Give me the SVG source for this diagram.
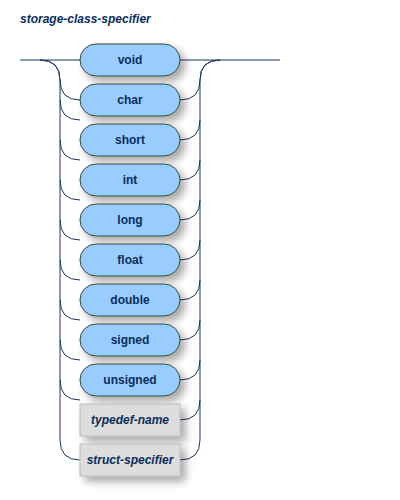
<svg xmlns="http://www.w3.org/2000/svg" width="400" height="500" viewBox="0 0 400 500">
<defs>
<filter id="sh" x="-20%" y="-40%" width="160%" height="200%">
<feGaussianBlur in="SourceAlpha" stdDeviation="4"/>
<feOffset dx="5" dy="5" result="b"/>
<feComponentTransfer><feFuncA type="linear" slope="0.35"/></feComponentTransfer>
<feMerge><feMergeNode/><feMergeNode in="SourceGraphic"/></feMerge>
</filter>
</defs>
<style>
.t rect{fill:#99CCFF;stroke:#334D33;stroke-width:1;}
.n rect{fill:#DDDDDD;stroke:#BBBBBB;stroke-width:1;}
text{font-family:"Liberation Sans",Arial,sans-serif;font-weight:bold;font-size:12px;fill:#0A2E5C;}
.n text,.title{font-style:italic;}
.c path{fill:none;stroke:#1A3560;stroke-width:1;}
</style>
<rect width="400" height="500" fill="#FFFFFF"/>
<text class="title" x="20" y="23">storage-class-specifier</text>
<g class="c" id="connectors">
<path d="M20 60 H80 M180 60 H280"/>
<path d="M40 60 q20 0 20 20 v0 q0 20 20 20"/>
<path d="M40 60 q20 0 20 20 v360 q0 20 20 20"/>
<path d="M60 100 v0 m0 0 q0 20 20 20 M60 140 q0 20 20 20 M60 180 q0 20 20 20 M60 220 q0 20 20 20 M60 260 q0 20 20 20 M60 300 q0 20 20 20 M60 340 q0 20 20 20 M60 380 q0 20 20 20"/>
<path d="M180 100 q20 0 20 -20 q0 -20 20 -20"/>
<path d="M180 460 q20 0 20 -20 v-360 q0 -20 20 -20"/>
<path d="M180 140 q20 0 20 -20 M180 180 q20 0 20 -20 M180 220 q20 0 20 -20 M180 260 q20 0 20 -20 M180 300 q20 0 20 -20 M180 340 q20 0 20 -20 M180 380 q20 0 20 -20 M180 420 q20 0 20 -20"/>
</g>
<g id="void" class="t"><rect x="80" y="44" width="100" height="32" rx="16" filter="url(#sh)"/><text x="130" y="64" text-anchor="middle">void</text></g>
<g id="char" class="t"><rect x="80" y="84" width="100" height="32" rx="16" filter="url(#sh)"/><text x="130" y="104" text-anchor="middle">char</text></g>
<g id="short" class="t"><rect x="80" y="124" width="100" height="32" rx="16" filter="url(#sh)"/><text x="130" y="144" text-anchor="middle">short</text></g>
<g id="int" class="t"><rect x="80" y="164" width="100" height="32" rx="16" filter="url(#sh)"/><text x="130" y="184" text-anchor="middle">int</text></g>
<g id="long" class="t"><rect x="80" y="204" width="100" height="32" rx="16" filter="url(#sh)"/><text x="130" y="224" text-anchor="middle">long</text></g>
<g id="float" class="t"><rect x="80" y="244" width="100" height="32" rx="16" filter="url(#sh)"/><text x="130" y="264" text-anchor="middle">float</text></g>
<g id="double" class="t"><rect x="80" y="284" width="100" height="32" rx="16" filter="url(#sh)"/><text x="130" y="304" text-anchor="middle">double</text></g>
<g id="signed" class="t"><rect x="80" y="324" width="100" height="32" rx="16" filter="url(#sh)"/><text x="130" y="344" text-anchor="middle">signed</text></g>
<g id="unsigned" class="t"><rect x="80" y="364" width="100" height="32" rx="16" filter="url(#sh)"/><text x="130" y="384" text-anchor="middle">unsigned</text></g>
<g id="typedef-name" class="n"><rect x="80" y="404" width="100" height="32" filter="url(#sh)"/><text x="130" y="424" text-anchor="middle">typedef-name</text></g>
<g id="struct-specifier" class="n"><rect x="80" y="444" width="100" height="32" filter="url(#sh)"/><text x="130" y="464" text-anchor="middle">struct-specifier</text></g>
</svg>
